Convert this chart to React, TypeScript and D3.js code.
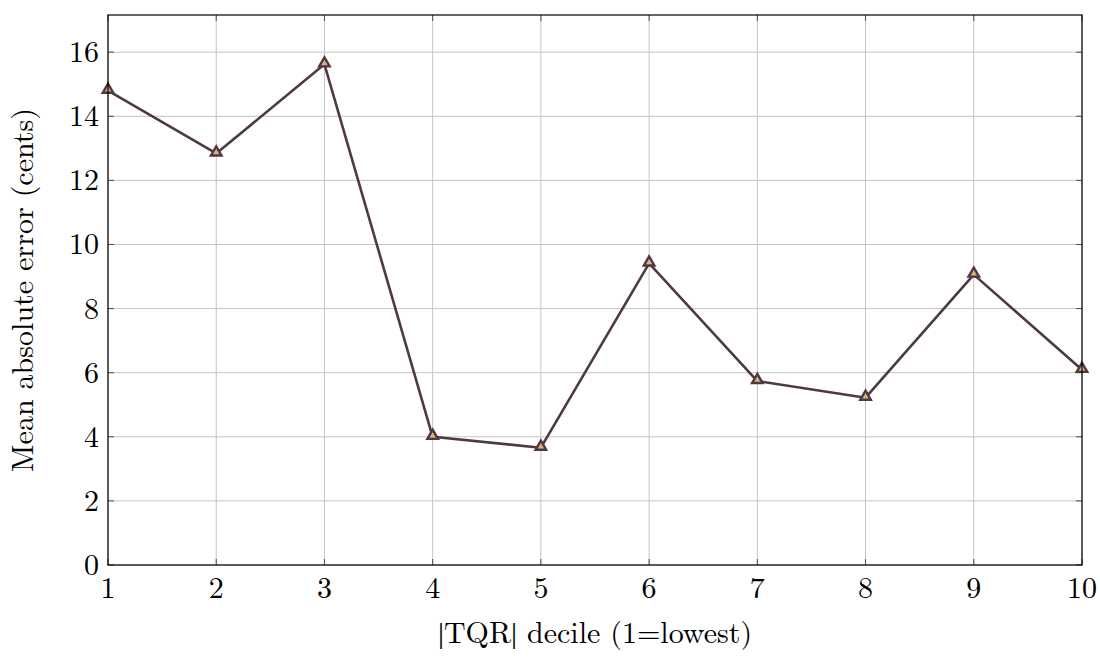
import React, { useEffect, useRef } from 'react';
import * as d3 from 'd3';

const deciles = [1, 2, 3, 4, 5, 6, 7, 8, 9, 10];
const maeCents = [14.8, 12.84, 15.62, 4.0, 3.66, 9.41, 5.74, 5.22, 9.06, 6.09];
const yTicks = [0, 2, 4, 6, 8, 10, 12, 14, 16];

const W = 1100;
const H = 658;

export default function App() {
    const svgRef = useRef<SVGSVGElement>(null);

    useEffect(() => {
        if (!svgRef.current) return;
        const svg = d3.select(svgRef.current);
        svg.selectAll("*").remove();

        const margin = { top: 15, right: 18, bottom: 93, left: 108 };
        const width = W - margin.left - margin.right;
        const height = H - margin.top - margin.bottom;
        const font = "'Latin Modern Roman', 'Liberation Serif', serif";
        const fs = 30;
        const lineColor = "#4f3942";

        const g = svg.append("g")
            .attr("transform", `translate(${margin.left},${margin.top})`);

        const x = d3.scaleLinear().domain([1, 10]).range([0, width]);
        const y = d3.scaleLinear().domain([0, 17.16]).range([height, 0]);

        // Grid
        g.append("g")
            .selectAll("line")
            .data(deciles)
            .join("line")
            .attr("x1", d => x(d)).attr("x2", d => x(d))
            .attr("y1", 0).attr("y2", height)
            .attr("stroke", "#c4c4c4").attr("stroke-width", 1);
        g.append("g")
            .selectAll("line")
            .data(yTicks)
            .join("line")
            .attr("x1", 0).attr("x2", width)
            .attr("y1", d => y(d)).attr("y2", d => y(d))
            .attr("stroke", "#c4c4c4").attr("stroke-width", 1);

        // Inner tick marks (all four sides)
        const tl = 6;
        const tickColor = "#4d4d4d";
        g.append("g").selectAll("line").data(deciles).join("line")
            .attr("x1", d => x(d)).attr("x2", d => x(d))
            .attr("y1", height).attr("y2", height - tl)
            .attr("stroke", tickColor);
        g.append("g").selectAll("line").data(deciles).join("line")
            .attr("x1", d => x(d)).attr("x2", d => x(d))
            .attr("y1", 0).attr("y2", tl)
            .attr("stroke", tickColor);
        g.append("g").selectAll("line").data(yTicks).join("line")
            .attr("x1", 0).attr("x2", tl)
            .attr("y1", d => y(d)).attr("y2", d => y(d))
            .attr("stroke", tickColor);
        g.append("g").selectAll("line").data(yTicks).join("line")
            .attr("x1", width).attr("x2", width - tl)
            .attr("y1", d => y(d)).attr("y2", d => y(d))
            .attr("stroke", tickColor);

        // Line
        const line = d3.line<number>()
            .x((_, i) => x(deciles[i]))
            .y(d => y(d));
        g.append("path")
            .datum(maeCents)
            .attr("fill", "none")
            .attr("stroke", lineColor)
            .attr("stroke-width", 2.6)
            .attr("stroke-linejoin", "round")
            .attr("d", line);

        // Triangle markers
        const tri = d3.symbol().type(d3.symbolTriangle).size(48);
        g.append("g")
            .selectAll("path")
            .data(maeCents)
            .join("path")
            .attr("transform", (d, i) => `translate(${x(deciles[i])},${y(d) - 1})`)
            .attr("d", tri)
            .attr("fill", "#d9b27c")
            .attr("stroke", lineColor)
            .attr("stroke-width", 2.4)
            .attr("stroke-linejoin", "miter");

        // Frame
        g.append("rect")
            .attr("width", width).attr("height", height)
            .attr("fill", "none").attr("stroke", "#000").attr("stroke-width", 1.2);

        // Tick labels
        g.append("g").selectAll("text").data(deciles).join("text")
            .attr("x", d => x(d)).attr("y", height + 33)
            .attr("text-anchor", "middle")
            .attr("font-family", font).attr("font-size", fs)
            .attr("fill", "#000")
            .text(d => d);
        g.append("g").selectAll("text").data(yTicks).join("text")
            .attr("x", -9).attr("y", d => y(d) + 10)
            .attr("text-anchor", "end")
            .attr("font-family", font).attr("font-size", fs)
            .attr("fill", "#000")
            .text(d => d);

        // Axis labels
        const xl = g.append("text")
            .attr("x", width / 2).attr("y", height + 78)
            .attr("text-anchor", "middle")
            .attr("font-family", font).attr("font-size", fs)
            .attr("fill", "#000");
        xl.append("tspan").attr("font-family", "'Liberation Serif', serif").text("|");
        xl.append("tspan").text("TQR");
        xl.append("tspan").attr("font-family", "'Liberation Serif', serif").text("|");
        xl.append("tspan").text(" decile (1=lowest)");

        g.append("text")
            .attr("transform", `translate(${-75},${height / 2}) rotate(-90)`)
            .attr("text-anchor", "middle")
            .attr("font-family", font).attr("font-size", fs)
            .attr("fill", "#000")
            .text("Mean absolute error (cents)");
    }, []);

    return (
        <div style={{ position: 'absolute', left: 0, top: 0, background: '#fff' }}>
            <svg ref={svgRef} width={W} height={H} style={{ display: 'block' }} />
        </div>
    );
}
